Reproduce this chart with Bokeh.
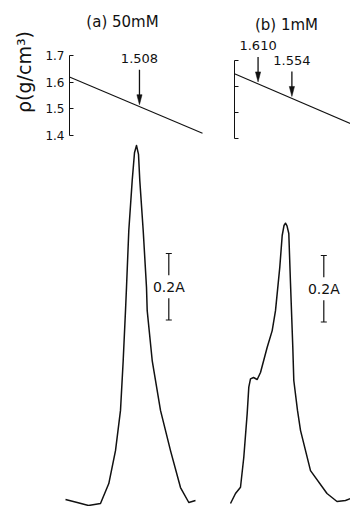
import numpy as np
from bokeh.plotting import figure
from bokeh.layouts import column, row
from bokeh.models import Label, Range1d, FixedTicker, LinearAxis
from bokeh.embed import file_html
from bokeh.resources import INLINE

# ---------------- data ----------------
# density gradient (position along tube in mm, density in g/cm^3)
pos_grad_a = [0.0, 26.6]
rho_grad_a = [1.619, 1.408]
pos_grad_b = [0.0, 23.2]
rho_grad_b = [1.649, 1.457]

rho_ticks = [1.4, 1.5, 1.6, 1.7]

# buoyant densities marked by arrows
arrow_rho_a = [1.508]
arrow_rho_b = [1.610, 1.554]

titles = ["(a) 50mM", "(b) 1mM"]
rho_label = "\u03c1(g/cm\u00b3)"

# absorbance profiles (position in mm, absorbance A)
pos_a = [-0.8, 1.54, 3.8, 6.2, 7.86, 9.2, 10.2, 10.74, 11.2, 11.4, 11.86, 12.54,
         13.0, 13.4, 13.8, 14.06, 14.74, 15.4, 15.54, 16.54, 18.2, 20.2, 22.2,
         23.86, 25.2]
abs_a = [0.012, 0.003, -0.006, 0.0, 0.060, 0.159, 0.280, 0.430, 0.580, 0.650,
         0.821, 0.971, 1.055, 1.077, 1.050, 0.971, 0.821, 0.650, 0.580, 0.430,
         0.280, 0.159, 0.048, 0.003, 0.009]

pos_b = [-0.8, 0.2, 1.2, 1.86, 2.54, 2.86, 3.2, 3.8, 4.54, 5.2, 6.54, 7.54,
         8.2, 9.06, 9.54, 9.9, 10.2, 10.5, 10.86, 11.2, 11.66, 11.86, 12.6,
         13.2, 15.2, 18.5, 20.5, 22.2, 23.2]
abs_b = [0.0, 0.030, 0.049, 0.139, 0.271, 0.350, 0.375, 0.379, 0.373, 0.394,
         0.470, 0.520, 0.580, 0.711, 0.806, 0.836, 0.843, 0.835, 0.812, 0.662,
         0.470, 0.370, 0.280, 0.220, 0.099, 0.030, 0.006, 0.009, 0.015]

scale_bar_A = 0.2

# ---------------- layout constants (pixels) ----------------
FONT = "DejaVu Sans"
INK = "#111111"
XPX = 5.0        # px per mm
RA = 266.7       # px per g/cm3, panel a
RB = 260.0       # px per g/cm3, panel b
YPX = 332.5      # px per absorbance unit
TOP_H = 143
BOT_H = 363
LEFT_W = 218
RIGHT_W = 132


def base(width, height, xr, yr, mbl):
    p = figure(width=width, height=height, x_range=Range1d(*xr), y_range=Range1d(*yr),
               output_backend="svg", toolbar_location=None, title=None,
               x_axis_location=None, y_axis_location=None,
               min_border_left=mbl, min_border_right=0, min_border_top=0,
               min_border_bottom=0)
    p.outline_line_color = None
    p.grid.visible = False
    p.background_fill_color = "white"
    p.border_fill_color = "white"
    return p


def rho_axis(p, labels=True):
    ax = LinearAxis(ticker=FixedTicker(ticks=rho_ticks), bounds=(min(rho_ticks), max(rho_ticks)))
    ax.axis_line_color = INK
    ax.axis_line_width = 1
    ax.major_tick_in = 4
    ax.major_tick_out = 0
    ax.minor_tick_in = 0
    ax.minor_tick_out = 0
    ax.major_tick_line_color = INK
    if labels:
        ax.major_label_standoff = 5
        ax.major_label_text_font = FONT
        ax.major_label_text_font_size = "12px"
        ax.major_label_text_color = INK
        ax.axis_label = rho_label
        ax.axis_label_standoff = 7
        ax.axis_label_text_font = FONT
        ax.axis_label_text_font_size = "19px"
        ax.axis_label_text_font_style = "normal"
        ax.axis_label_text_color = INK
    else:
        ax.major_label_standoff = 0
        ax.major_label_overrides = {t: "" for t in rho_ticks}
    p.add_layout(ax, "left")


def arrows(p, pos, rho, values, R, length):
    for v in values:
        x = float(np.interp(v, rho[::-1], pos[::-1]))
        tip = v + 2.0 / R
        start = tip + length / R
        p.segment(x0=[x], y0=[start], x1=[x], y1=[tip + 8.0 / R], line_color=INK, line_width=1.3)
        p.patch(x=[x - 2.6 / XPX, x + 2.6 / XPX, x], y=[tip + 10.0 / R, tip + 10.0 / R, tip],
                fill_color=INK, line_color=INK, line_width=0.5)
        p.add_layout(Label(x=x, y=start + 11.0 / R, text=f"{v:.3f}", text_align="center",
                           text_baseline="middle", text_font=FONT, text_font_size="13px",
                           text_color=INK))


def scale_bar(p, x, top):
    bottom = top - scale_bar_A
    mid = (top + bottom) / 2
    gap = 11.5 / YPX
    cap = 3.0 / XPX
    p.segment(x0=[x, x, x - cap, x - cap], y0=[top, mid - gap, top, bottom],
              x1=[x, x, x + cap, x + cap], y1=[mid + gap, bottom, top, bottom],
              line_color=INK, line_width=1.2)
    p.add_layout(Label(x=x, y=mid, text=f"{scale_bar_A}A", text_align="center",
                       text_baseline="middle", text_font=FONT, text_font_size="14px",
                       text_color=INK))


# ---------------- top left: density gradient (a) ----------------
# axis at page x=69; 1.7 at page y=55, 1.4 at page y=135
ta = base(LEFT_W, TOP_H, (0, (LEFT_W - 69) / XPX),
          (1.4 - (TOP_H - 135) / RA, 1.7 + 55 / RA), 69)
rho_axis(ta, labels=True)
ta.line(pos_grad_a, rho_grad_a, line_color=INK, line_width=1.1)
arrows(ta, pos_grad_a, rho_grad_a, arrow_rho_a, RA, 35)
ta.add_layout(Label(x=53 / XPX, y=1.7 + 33 / RA, text=titles[0], text_align="center",
                    text_baseline="middle", text_font=FONT, text_font_size="15px",
                    text_color=INK))

# ---------------- top right: density gradient (b) ----------------
# axis at page x=234; 1.7 at page y=60
tb = base(RIGHT_W, TOP_H, (0, (RIGHT_W - 16) / XPX),
          (1.7 - (TOP_H - 60) / RB, 1.7 + 60 / RB), 16)
rho_axis(tb, labels=False)
tb.line(pos_grad_b, rho_grad_b, line_color=INK, line_width=1.1)
arrows(tb, pos_grad_b, rho_grad_b, arrow_rho_b, RB, 25)
tb.add_layout(Label(x=52 / XPX, y=1.7 + 36 / RB, text=titles[1], text_align="center",
                    text_baseline="middle", text_font=FONT, text_font_size="15px",
                    text_color=INK))

# ---------------- bottom: absorbance profiles ----------------
# baseline A=0 at page y=503
yr = (-(506 - 503) / YPX, (503 - TOP_H) / YPX)
ba = base(LEFT_W, BOT_H, (-9 / XPX, (LEFT_W - 69) / XPX), yr, 60)
ba.line(pos_a, abs_a, line_color=INK, line_width=1.5, line_join="round")
scale_bar(ba, 99.3 / XPX, (503 - 253) / YPX)

bb = base(RIGHT_W, BOT_H, (-12 / XPX, (RIGHT_W - 16) / XPX), yr, 4)
bb.line(pos_b, abs_b, line_color=INK, line_width=1.5, line_join="round")
scale_bar(bb, 89.3 / XPX, (503 - 255) / YPX)

layout = column(row(ta, tb), row(ba, bb))
open("out.html", "w").write(file_html(layout, INLINE))
